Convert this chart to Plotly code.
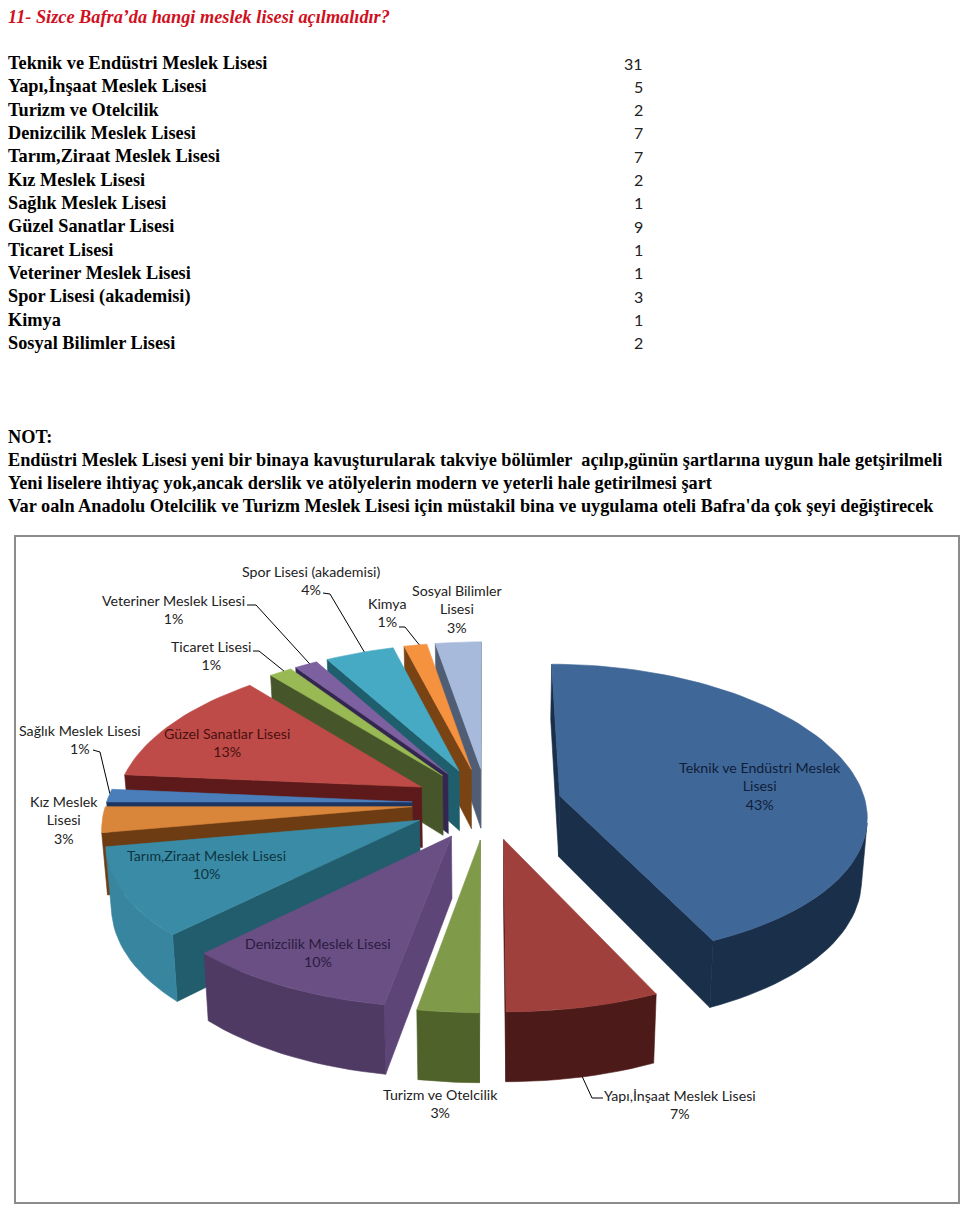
import math
import plotly.graph_objects as go

# ---------- data ----------
title_text = "11- Sizce Bafra’da hangi meslek lisesi açılmalıdır?"
categories = ["Teknik ve Endüstri Meslek Lisesi", "Yapı,İnşaat Meslek Lisesi", "Turizm ve Otelcilik",
              "Denizcilik Meslek Lisesi", "Tarım,Ziraat Meslek Lisesi", "Kız Meslek Lisesi",
              "Sağlık Meslek Lisesi", "Güzel Sanatlar Lisesi", "Ticaret Lisesi",
              "Veteriner Meslek Lisesi", "Spor Lisesi (akademisi)", "Kimya", "Sosyal Bilimler Lisesi"]
counts = [31, 5, 2, 7, 7, 2, 1, 9, 1, 1, 3, 1, 2]
note_lines = ["NOT:",
              "Endüstri Meslek Lisesi yeni bir binaya kavuşturularak takviye bölümler  açılıp,günün şartlarına uygun hale getşirilmeli",
              "Yeni liselere ihtiyaç yok,ancak derslik ve atölyelerin modern ve yeterli hale getirilmesi şart",
              "Var oaln Anadolu Otelcilik ve Turizm Meslek Lisesi için müstakil bina ve uygulama oteli Bafra'da çok şeyi değiştirecek"]

# ---------- styles ----------
top_colors = ["#3F6797", "#A0403C", "#7F9A48", "#6A4F85", "#3A8CA6", "#D9853A", "#4A7EBB",
              "#BE4B48", "#98B954", "#7D60A0", "#46AAC4", "#F59240", "#A7BADB"]
outer_colors = ["#1A2F4A", "#4C1A18", "#4E6229", "#4F3A64", "#37859F", "#6E3C12", "#1C3560",
                "#5E1A1A", "#46562A", "#3A2A55", "#1F5F6D", "#7A4314", "#4F5E75"]
radial_colors = ["#1A2F4A", "#4C1A18", "#4E6229", "#5D4578", "#215D6C", "#6E3C12", "#1C3560",
                 "#5E1A1A", "#46562A", "#332650", "#1F5F6D", "#7A4314", "#4F5E75"]
wrapped = {"Teknik ve Endüstri Meslek Lisesi": "Teknik ve Endüstri Meslek<br>Lisesi",
           "Kız Meslek Lisesi": "Kız Meslek<br>Lisesi",
           "Sosyal Bilimler Lisesi": "Sosyal Bilimler<br>Lisesi"}
label_xy = [(760, 786), (680, 1104), (440, 1103), (318, 952), (206, 864), (64, 820), (80, 739),
            (227, 742), (211, 655), (173, 609), (311, 580), (387, 612), (457, 609)]
label_colors = ["#101E3A", "#222222", "#222222", "#2A1C40", "#0F3340", "#222222", "#222222",
                "#4A1010", "#222222", "#222222", "#222222", "#222222", "#222222"]
# slice index -> (elbow points of the leader, which rim the leader meets)
leaders = {8: [(253, 651), (259, 651)], 9: [(247, 605), (256, 605)], 10: [(323, 593), (330, 594)],
           11: [(399, 627), (405, 627)], 6: [(93, 750), (100, 752)], 1: [(603, 1098), (592, 1098)]}

SERIF = "Liberation Serif"
SANS = "Lato"
CX, R, PULL = 487.0, 306.0, 0.245
HORIZON, Y0, PERSP = -620.0, 803.5, 0.103
HEIGHT, SHRINK, XPOW = 61.0, 0.985, 1.2


def project(X, Y, low=False):
    s = 1.0 / (1.0 + PERSP * Y)
    sx = s ** XPOW
    if low:
        return CX + (R * X * sx) * SHRINK, HORIZON + (Y0 - HORIZON) * s + HEIGHT * s
    return CX + R * X * sx, HORIZON + (Y0 - HORIZON) * s


total = sum(counts)
angles = [0.0]
for c in counts:
    angles.append(angles[-1] + c / total * 360.0)


def slice_geometry(i):
    a0, a1 = angles[i], angles[i + 1]
    mid = math.radians((a0 + a1) / 2)
    ax, ay = PULL * math.sin(mid), PULL * math.cos(mid)
    n = max(3, int((a1 - a0) / 2))
    ts = [math.radians(a0 + (a1 - a0) * k / n) for k in range(n + 1)]
    rim = [(ax + math.sin(t), ay + math.cos(t)) for t in ts]
    return (ax, ay), rim


def visible(p, q):
    """Perimeter edge p->q (clockwise) faces the viewer when the drop goes outward."""
    (x0, y0), (x1, y1) = project(*p), project(*q)
    tx, ty = x1 - x0, y1 - y0
    lx, ly = project(*p, low=True)
    return ty * (lx - x0) - tx * (ly - y0) > 0


def wall(points):
    top = [project(*p) for p in points]
    low = [project(*p, low=True) for p in reversed(points)]
    return top + low + top[:1]


fig = go.Figure()


def add_poly(poly, color, name):
    fig.add_trace(go.Scatter(x=[p[0] for p in poly], y=[p[1] for p in poly], mode="lines", fill="toself",
                             fillcolor=color, line=dict(color=color, width=0.6), name=name,
                             hoverinfo="name", showlegend=False))


rims = {}
order = sorted(range(len(counts)), key=lambda i: -slice_geometry(i)[0][1])
for i in order:
    apex, rim = slice_geometry(i)
    rims[i] = rim
    name = categories[i]
    if visible(apex, rim[0]):
        add_poly(wall([apex, rim[0]]), radial_colors[i], name)
    if visible(rim[-1], apex):
        add_poly(wall([rim[-1], apex]), radial_colors[i], name)
    run = []
    for p, q in zip(rim[:-1], rim[1:]):
        if visible(p, q):
            run = run + [q] if run else [p, q]
        elif run:
            add_poly(wall(run), outer_colors[i], name)
            run = []
    if run:
        add_poly(wall(run), outer_colors[i], name)
    top = [project(*apex)] + [project(*p) for p in rim] + [project(*apex)]
    add_poly(top, top_colors[i], name)

# leader lines, ending on the rim of their slice
for i, elbow in leaders.items():
    rim = rims[i]
    mid = rim[len(rim) // 2]
    end = project(*mid, low=(i == 1))
    pts = elbow + [end]
    fig.add_trace(go.Scatter(x=[p[0] for p in pts], y=[p[1] for p in pts], mode="lines",
                             line=dict(color="#000000", width=1), hoverinfo="skip", showlegend=False))

ann = []


def text(x, y, s, font, size, color="#000000", anchor="left", bold=False, italic=False):
    if bold:
        s = f"<b>{s}</b>"
    if italic:
        s = f"<i>{s}</i>"
    ann.append(dict(x=x, y=y, xref="x", yref="y", text=s, showarrow=False, xanchor=anchor, yanchor="middle",
                    align="center" if anchor == "center" else anchor,
                    font=dict(family=font, size=size, color=color)))


text(6, 17, title_text, SERIF, 18.3, "#D0101E", bold=True, italic=True)
ROW0, ROWSTEP = 63.0, 23.33
for k, (c, v) in enumerate(zip(categories, counts)):
    text(6, ROW0 + k * ROWSTEP, c, SERIF, 18.3, bold=True)
    text(645, ROW0 + k * ROWSTEP, str(v), SANS, 16, "#222222", anchor="right")
for k, line in enumerate(note_lines):
    text(6, 437 + k * 23.0, line, SERIF, 18.3, bold=True)

for i, c in enumerate(categories):
    pct = int(counts[i] / total * 100 + 0.5)
    x, y = label_xy[i]
    text(x, y, f"{wrapped.get(c, c)}<br>{pct}%", SANS, 14.2, label_colors[i], anchor="center")

fig.update_layout(
    width=960, height=1209, autosize=False,
    margin=dict(l=0, r=0, t=0, b=0), paper_bgcolor="white", plot_bgcolor="white",
    xaxis=dict(range=[0, 960], visible=False, fixedrange=True),
    yaxis=dict(range=[1209, 0], visible=False, fixedrange=True),
    annotations=ann, showlegend=False,
    shapes=[dict(type="rect", xref="x", yref="y", x0=15, y0=536, x1=959, y1=1203,
                 line=dict(color="#8C8C8C", width=2), layer="below")],
)
fig.write_html("out.html", config={"displayModeBar": False},
               post_script="document.body.style.margin='0';document.body.style.overflow='hidden';")
